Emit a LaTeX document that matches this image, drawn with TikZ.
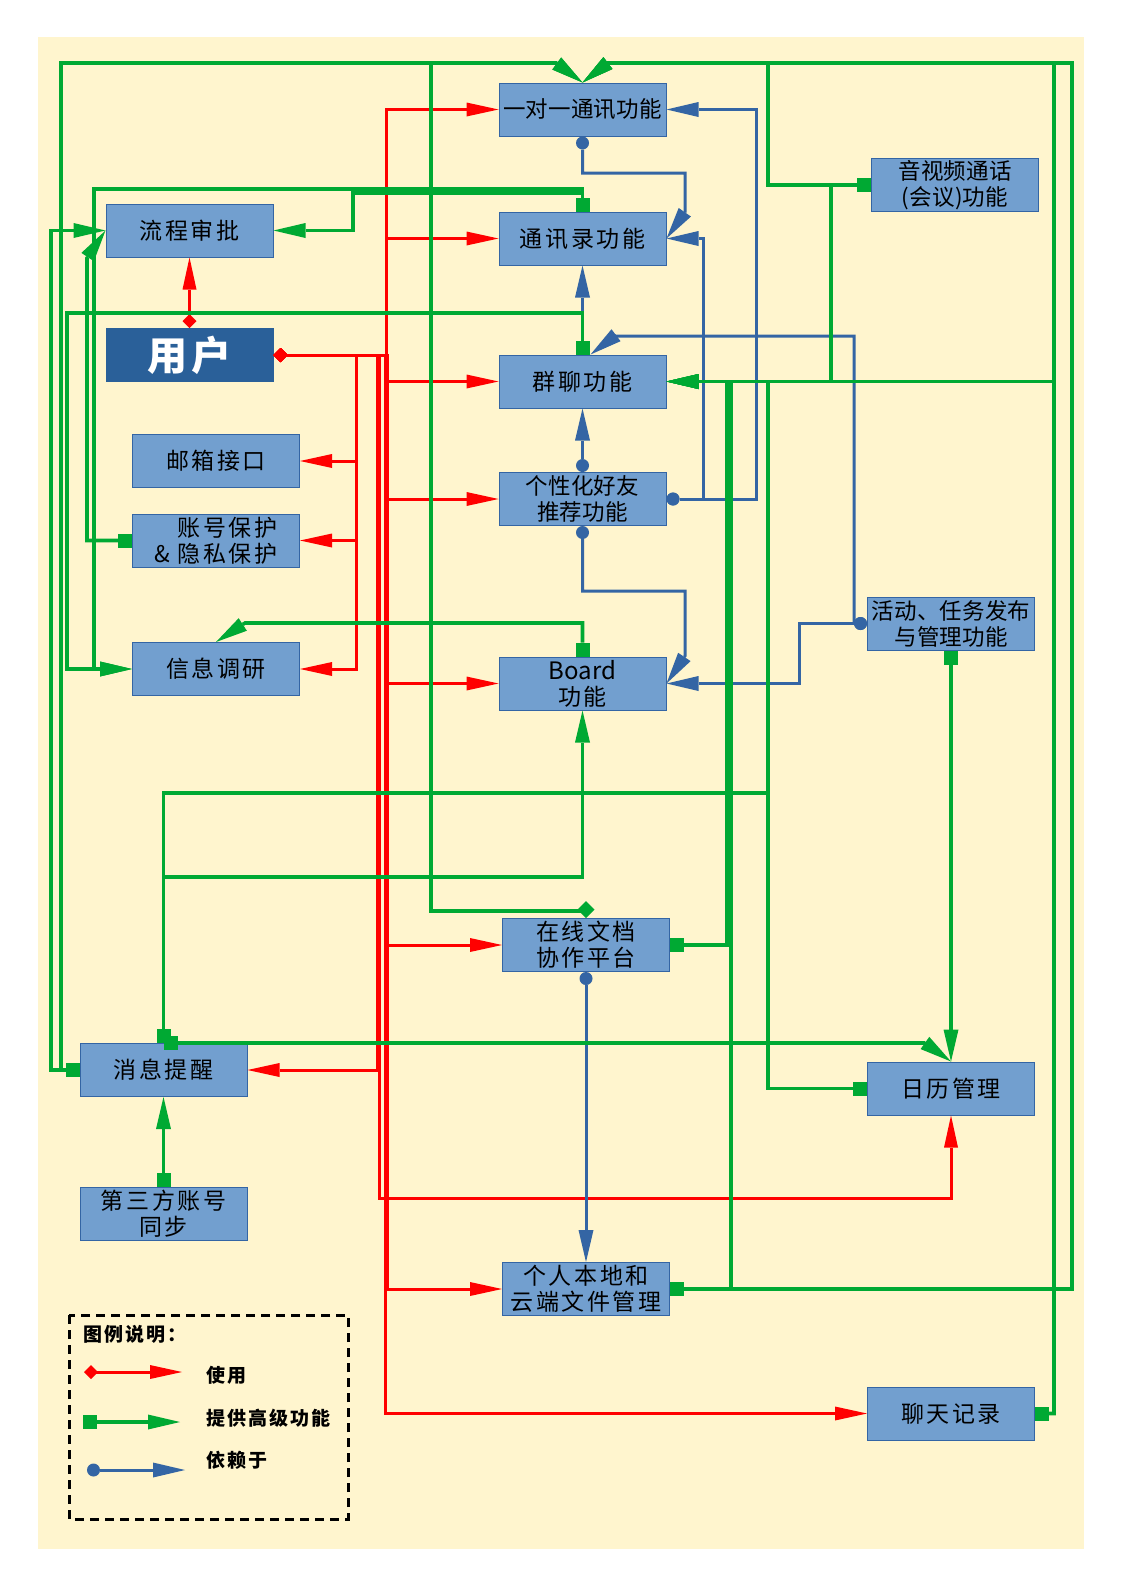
\documentclass[tikz,border=0pt]{standalone}
\usepackage{fontspec}
\setmainfont{Noto Sans CJK SC}
\newfontfamily\kaiwide[LetterSpace=11]{Noto Sans CJK SC}
\newfontfamily\kaitight[LetterSpace=1]{Noto Sans CJK SC}
\newfontfamily\kaiuser[LetterSpace=12]{Noto Sans CJK SC}
\newfontfamily\kailgd[LetterSpace=10]{Noto Sans CJK SC}
\usetikzlibrary{arrows.meta}
\definecolor{paper}{HTML}{FFF5CE}
\definecolor{boxfill}{HTML}{729FCF}
\definecolor{boxline}{HTML}{3465A4}
\definecolor{userfill}{HTML}{2A6099}
\definecolor{usered}{HTML}{FF0000}
\definecolor{provgreen}{HTML}{00A933}
\definecolor{depblue}{HTML}{3465A4}

\begin{document}
\begin{tikzpicture}[x=1pt,y=-1pt,
    fn/.style={draw=boxline,fill=boxfill,line width=1pt,minimum width=167pt,minimum height=53pt,inner sep=0pt,align=center,font=\kaiwide\fontsize{23}{26}\selectfont},
    narrow/.style={font=\kaitight\fontsize{22.5}{26}\selectfont},
    use/.style={draw=usered,line width=3pt,{Diamond[length=14pt,width=14pt,line width=0pt]}-{Triangle[length=32pt,width=14pt,line width=0pt]}},
    prov/.style={draw=provgreen,line width=3.6pt,{Square[length=14pt,width=14pt,line width=0pt]}-{Triangle[length=32pt,width=15pt,line width=0pt]}},
    provd/.style={prov,{Diamond[length=17pt,width=17pt,line width=0pt]}-{Triangle[length=32pt,width=15pt,line width=0pt]}},
    dep/.style={draw=depblue,line width=3pt,{Circle[length=13pt,line width=0pt]}-{Triangle[length=32pt,width=15pt,line width=0pt]}},
    lgd/.style={anchor=west,font=\kailgd\bfseries\fontsize{19}{21}\selectfont}]
    \useasboundingbox (0,0) rectangle (1122,1587);
    \fill[white] (0,0) rectangle (1122,1587);
    \fill[paper] (38,37) rectangle (1084,1549);

    % functions
    \node[fn,narrow] (YD) at (582.5,109.5) {一对一通讯功能};
    \node[fn] (TXL) at (582.5,238.5) {通讯录功能};
    \node[fn] (QL) at (582.5,381.5) {群聊功能};
    \node[fn,narrow] (GXH) at (582.5,499) {个性化好友\\推荐功能};
    \node[fn] (BD) at (582.5,683.5) {{\rmfamily\fontsize{24}{26}\selectfont Board}\\功能};
    \node[fn] (ZX) at (586,945) {在线文档\\协作平台};
    \node[fn] (WJ) at (586,1289) {个人本地和\\云端文件管理};
    \node[fn] (LC) at (189.5,230.5) {流程审批};
    \node[fn,draw=userfill,fill=userfill,text=white,font=\kaiuser\bfseries\fontsize{40}{42}\selectfont] (YH) at (189.5,355) {用户};
    \node[fn] (YX) at (216,461) {邮箱接口};
    \node[fn,align=right] (ZH) at (216,540.5) {账号保护\\\& 隐私保护};
    \node[fn] (DY) at (216,669) {信息调研};
    \node[fn] (XX) at (163.5,1070) {消息提醒};
    \node[fn] (DSF) at (163.5,1213.5) {第三方账号\\同步};
    \node[fn,narrow] (SP) at (955,185) {音视频通话\\(会议)功能};
    \node[fn,narrow] (HD) at (951,623.5) {活动、任务发布\\与管理功能};
    \node[fn] (RL) at (951,1088.5) {日历管理};
    \node[fn] (LT) at (951,1413.5) {聊天记录};

    % use
    \draw[use] (YH.north) -- (LC.south);
    \draw[use] (YH.east) -| (356,461) -- (YX.east);
    \draw[use] (YH.east) -| (356,540.5) -- (ZH.east);
    \draw[use] (YH.east) -| (356,669) -- (DY.east);
    \draw[use] (YH.east) -| (377.5,1070) -- (XX.east);
    \draw[use] (YH.east) -| (379,1198) -| (RL.south);
    \draw[use] (YH.east) -| (386,109.5) -- (YD.west);
    \draw[use] (YH.east) -| (386,238.5) -- (TXL.west);
    \draw[use] (YH.east) -| (386.5,381.5) -- (QL.west);
    \draw[use] (YH.east) -| (387,499) -- (GXH.west);
    \draw[use] (YH.east) -| (386,683.5) -- (BD.west);
    \draw[use] (YH.east) -| (386.5,945) -- (ZX.west);
    \draw[use] (YH.east) -| (387,1289) -- (WJ.west);
    \draw[use] (YH.east) -| (385,1413.5) -- (LT.west);

    % depends on
    \draw[dep] (YD.south) |- (685,173) -- (685,212) -- (TXL.east);
    \draw[dep] (GXH.east) -| (756,109.5) -- (YD.east);
    \draw[dep] (GXH.east) -| (703,238.5) -- (TXL.east);
    \draw[dep] (GXH.north) -- (QL.south);
    \draw[dep] (QL.north) -- (TXL.south);
    \draw[dep] (GXH.south) |- (685,591) -- (685,656) -- (BD.east);
    \draw[dep] (HD.west) -| (799,683.5) -- (BD.east);
    \draw[dep] (HD.west) -| (854,336) -- (615,336) -- ([xshift=8pt]QL.north);
    \draw[dep] (ZX.south) -- (WJ.north);

    % provides
    \draw[prov] (TXL.north) -- (582.5,193) -| (353,230.5) -- (LC.east);
    \draw[prov] (TXL.north) -- (582.5,189) -| (94,669) -- (DY.west);
    \draw[prov] (QL.north) -- (582.5,313) -| (67,669) -- (DY.west);
    \draw[prov] (ZH.west) -| (87,258) -- (LC.west);
    \draw[prov] (XX.west) -| (51,230.5) -- (LC.west);
    \draw[prov] (XX.west) -| (61,63) -- (556,63) -- (YD.north);
    \draw[provd] (ZX.north) -- (586,911) -| (431,63) -- (556,63) -- (YD.north);
    \draw[prov] (SP.west) -| (768,63) -- (608,63) -- (YD.north);
    \draw[prov] (SP.west) -| (831,381.5) -- (QL.east);
    \draw[prov] (WJ.east) -| (1072,63) -- (608,63) -- (YD.north);
    \draw[prov] (WJ.east) -| (731,381.5) -- (QL.east);
    \draw[prov] (ZX.east) -| (727,381.5) -- (QL.east);
    \draw[prov] (LT.east) -| (1054,381.5) -- (QL.east);
    \draw[prov] (LT.east) -| (1054,63) -- (608,63) -- (YD.north);
    \draw[prov] (RL.west) -| (768,381.5) -- (QL.east);
    \draw[prov] (XX.north) |- (768,793) |- (QL.east);
    \draw[prov] (XX.north) |- (582.5,877) -- (BD.south);
    \draw[prov] (XX.north) -- (925,1043) -- (RL.north);
    \draw[prov] (HD.south) -- (RL.north);
    \draw[prov] (BD.north) |- (245,623) -- (DY.north);
    \draw[prov] (DSF.north) -- (XX.south);

    % legend
    \draw[line width=3pt,dash pattern=on 9pt off 6pt] (69,1315) rectangle (348,1519);
    \node[lgd] (LG) at (80,1334) {图例说明：};
    \coordinate (U1) at (84,1372);
    \coordinate (U2) at (182,1372);
    \draw[use] (U1) -- (U2);
    \node[lgd] (LU) at (203,1375) {使用};
    \coordinate (P1) at (83,1422);
    \coordinate (P2) at (180,1422);
    \draw[prov] (P1) -- (P2);
    \node[lgd] (LP) at (203,1418) {提供高级功能};
    \coordinate (D1) at (87,1470);
    \coordinate (D2) at (185,1470);
    \draw[dep] (D1) -- (D2);
    \node[lgd] (LD) at (203,1460) {依赖于};
\end{tikzpicture}
\end{document}
